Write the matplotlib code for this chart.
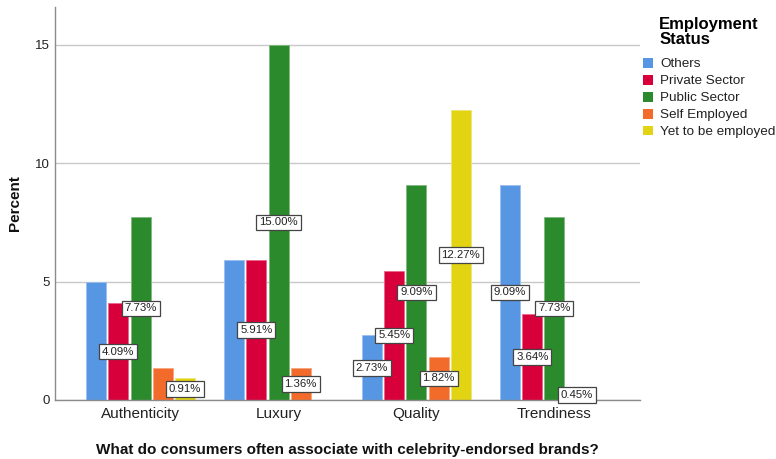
import numpy as np
import matplotlib
matplotlib.use("Agg")
import matplotlib.pyplot as plt
from matplotlib.patches import Patch
from matplotlib.colors import to_rgb

plt.rcParams['font.family'] = ['Liberation Sans', 'DejaVu Sans']

categories = ["Authenticity", "Luxury", "Quality", "Trendiness"]
series = ["Others", "Private Sector", "Public Sector", "Self Employed", "Yet to be employed"]

others = [5.00, 5.91, 2.73, 9.09]
private_sector = [4.09, 5.91, 5.45, 3.64]
public_sector = [7.73, 15.00, 9.09, 7.73]
self_employed = [1.36, 1.36, 1.82, 0.45]
yet_to_be_employed = [0.91, 0.00, 12.27, 0.00]

# which bars carry a value label (overlapping ones are left out)
show_label = [
    [False, False, True, True],   # Others
    [True, True, True, True],     # Private Sector
    [True, True, True, True],     # Public Sector
    [False, True, True, True],    # Self Employed
    [True, False, True, False],   # Yet to be employed
]

yticks = [0, 5, 10, 15]

values = [others, private_sector, public_sector, self_employed, yet_to_be_employed]
colors = ["#5796E3", "#D8003A", "#2B8A2B", "#F26B2B", "#E2D412"]

fig = plt.figure(figsize=(7.76, 4.59), dpi=100)
ax = fig.add_axes([55 / 776, 1 - 400 / 459, 585 / 776, 393 / 459])

x = np.arange(len(categories))
step = 0.161
width = 0.145
offsets = (np.arange(len(series)) - (len(series) - 1) / 2) * step

for i, (name, vals, col) in enumerate(zip(series, values, colors)):
    edge = tuple(0.6 * np.array(to_rgb(col)) + 0.4)
    bars = ax.bar(x + offsets[i], vals, width=width, color=col,
                  edgecolor=edge, linewidth=0.6, zorder=2, label=name)
    for j, b in enumerate(bars):
        if show_label[i][j]:
            h = b.get_height()
            ax.text(b.get_x() + b.get_width() / 2, h / 2, f"{h:.2f}%",
                    ha="center", va="center", fontsize=8.2, color="#222222",
                    zorder=4,
                    bbox=dict(boxstyle="square,pad=0.25", facecolor="white",
                              edgecolor="#444444", linewidth=0.9))

ax.set_xlim(-0.62, 3.62)
ax.set_ylim(0, 16.6)
ax.set_yticks(yticks)
ax.set_xticks(x)
ax.set_xticklabels(categories, fontsize=11, color="#222222")
ax.tick_params(axis="y", labelsize=9.5, colors="#222222", length=0, pad=4)
ax.tick_params(axis="x", length=0, pad=5)
ax.yaxis.grid(True, color="#C8C8C8", linewidth=1.0, zorder=0)
ax.set_axisbelow(True)

for side in ("top", "right"):
    ax.spines[side].set_visible(False)
for side in ("left", "bottom"):
    ax.spines[side].set_color("#8C8C8C")
    ax.spines[side].set_linewidth(1.0)

ax.set_ylabel("Percent", fontsize=11, fontweight="bold", color="#111111", labelpad=9)
ax.set_xlabel("What do consumers often associate with celebrity-endorsed brands?",
              fontsize=11, fontweight="bold", color="#111111", labelpad=16)

handles = [Patch(facecolor=c, edgecolor="none") for c in colors]
leg = fig.legend(handles, series, loc="upper left",
                 bbox_to_anchor=(640 / 776, 1 - 14 / 459),
                 frameon=False, fontsize=9.7, title="Employment\nStatus",
                 title_fontproperties={"weight": "bold", "size": 12},
                 handlelength=0.75, handleheight=0.75, handletextpad=0.55,
                 labelspacing=0.32, borderpad=0.2, borderaxespad=0)
for t in leg.get_texts():
    t.set_color("#222222")
leg.get_title().set_linespacing(1.0)
leg._legend_box.sep = 8

fig.savefig("out.png", dpi=100)
